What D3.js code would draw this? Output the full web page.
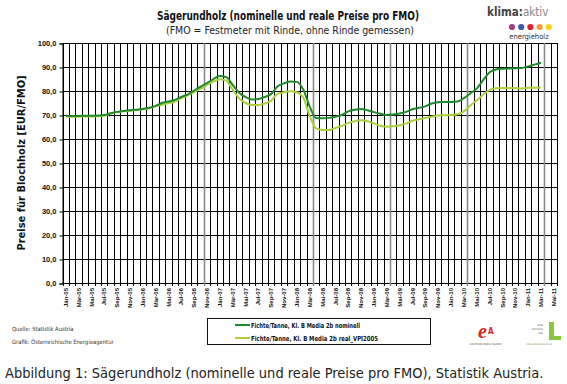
<!DOCTYPE html>
<html><head><meta charset="utf-8">
<script src="https://cdn.jsdelivr.net/npm/d3@7"></script>
<style>
html,body{margin:0;padding:0;background:#fff;}
svg{display:block;}
text{font-family:"Liberation Sans Narrow","Arial Narrow","DejaVu Sans Condensed",sans-serif;}
</style></head>
<body><svg id="c" width="567" height="384"></svg>
<script>
const months = ["Jän-05","Feb-05","Mär-05","Apr-05","Mai-05","Jun-05","Jul-05","Aug-05","Sep-05","Okt-05","Nov-05","Dez-05",
"Jän-06","Feb-06","Mär-06","Apr-06","Mai-06","Jun-06","Jul-06","Aug-06","Sep-06","Okt-06","Nov-06","Dez-06",
"Jän-07","Feb-07","Mär-07","Apr-07","Mai-07","Jun-07","Jul-07","Aug-07","Sep-07","Okt-07","Nov-07","Dez-07",
"Jän-08","Feb-08","Mär-08","Apr-08","Mai-08","Jun-08","Jul-08","Aug-08","Sep-08","Okt-08","Nov-08","Dez-08",
"Jän-09","Feb-09","Mär-09","Apr-09","Mai-09","Jun-09","Jul-09","Aug-09","Sep-09","Okt-09","Nov-09","Dez-09",
"Jän-10","Feb-10","Mär-10","Apr-10","Mai-10","Jun-10","Jul-10","Aug-10","Sep-10","Okt-10","Nov-10","Dez-10",
"Jän-11","Feb-11","Mär-11","Apr-11","Mai-11"];
const tickLabels = ["Jän-05","Mär-05","Mai-05","Jul-05","Sep-05","Nov-05","Jän-06","Mär-06","Mai-06","Jul-06","Sep-06","Nov-06",
"Jän-07","Mär-07","Mai-07","Jul-07","Sep-07","Nov-07","Jän-08","Mär-08","Mai-08","Jul-08","Sep-08","Nov-08",
"Jän-09","Mär-09","Mai-09","Jul-09","Sep-09","Nov-09","Jän-10","Mär-10","Mai-10","Jul-10","Sep-10","Nov-10",
"Jän-11","Mär-11","Mai-11"];
const nominal = [69.7,69.6,69.6,69.7,69.7,69.8,70.0,70.7,71.3,71.7,72.0,72.2,
72.5,73.0,73.8,75.0,75.6,76.3,77.5,78.6,80.2,81.8,83.3,85.0,
86.3,85.8,82.5,79.3,77.5,76.5,76.7,77.5,78.8,82.0,83.2,84.0,
83.8,80.5,73.5,68.7,68.6,68.8,69.3,70.0,71.5,72.2,72.5,72.0,
71.2,70.5,70.0,70.2,70.6,71.3,72.4,73.0,73.6,74.8,75.3,75.4,
75.4,75.6,77.0,79.0,81.0,84.5,87.8,89.0,89.3,89.4,89.5,89.6,
90.2,91.0,91.8];
const real = [69.4,69.3,69.3,69.4,69.4,69.5,69.7,70.6,71.2,71.6,71.8,72.1,
72.4,72.8,73.6,74.3,74.9,75.6,77.0,78.2,79.6,81.0,82.5,84.0,
84.9,84.3,80.5,77.0,75.0,74.2,74.2,74.8,76.0,78.8,79.5,79.9,
79.5,77.2,69.5,64.4,63.8,63.8,64.6,65.5,66.6,67.4,67.8,67.4,
66.5,65.5,65.1,65.3,65.7,66.4,67.6,68.2,68.8,69.3,69.8,69.9,
70.0,70.3,71.5,74.0,76.0,78.5,80.4,81.1,81.2,81.2,81.2,81.0,
81.4,81.4,81.5];
const yTicks = [0,10,20,30,40,50,60,70,80,90,100];
const seriesNames = ["Fichte/Tanne, Kl. B Media 2b nominell","Fichte/Tanne, Kl. B Media 2b real_VPI2005"];
const seriesColors = ["#1f8a2c","#acd03c"];

const svg = d3.select("#c");
const L = 62.5, R = 557, T = 43, B = 283;
const x = d3.scaleBand().domain(months).range([L, R]).padding(0);
const y = d3.scaleLinear().domain([0,100]).range([B, T]);
const fmt = v => d3.format(".1f")(v).replace(".", ",");

// horizontal grid
svg.append("g").selectAll("line").data(yTicks).join("line")
  .attr("x1", L).attr("x2", R).attr("y1", d=>y(d)+0.5).attr("y2", d=>y(d)+0.5)
  .attr("stroke", "#000").attr("stroke-width", 1);
// vertical grid at band boundaries
const grayIdx = new Set([22,39,51,63,75]);
const bounds = d3.range(months.length + 1);
svg.append("g").selectAll("line").data(bounds).join("line")
  .attr("x1", i => Math.round(L + i*x.bandwidth()) + 0.5)
  .attr("x2", i => Math.round(L + i*x.bandwidth()) + 0.5)
  .attr("y1", T).attr("y2", B + 3)
  .attr("stroke", i => grayIdx.has(i) ? "#8a8a8a" : "#000")
  .attr("stroke-width", i => grayIdx.has(i) ? 1.6 : 1);

// y axis
const yAxis = d3.axisLeft(y).tickValues(yTicks).tickFormat(fmt).tickSize(3).tickPadding(3);
const ya = svg.append("g").attr("transform", `translate(${L},0.5)`).call(yAxis);
ya.select(".domain").attr("stroke", "#000");
ya.selectAll(".tick line").attr("stroke", "#000");
ya.selectAll("text").attr("font-size", 7.5).attr("font-weight", "bold").attr("fill", "#111")
  .style("font-family", '"Liberation Sans Narrow","Arial Narrow",sans-serif');

// x axis labels
const xAxis = d3.axisBottom(x).tickValues(tickLabels).tickSize(0).tickPadding(0);
const xa = svg.append("g").attr("transform", `translate(0,${B})`).call(xAxis);
xa.select(".domain").remove();
xa.selectAll("text").attr("font-size", 6).attr("font-weight", "bold").attr("fill", "#111")
  .attr("transform", "rotate(-90)").attr("text-anchor", "end")
  .attr("x", -5).attr("y", 0).attr("dy", "0.35em")
  .style("font-family", '"Liberation Sans Narrow","Arial Narrow",sans-serif');

// lines
const line = d3.line().x((d,i)=>x(months[i]) + x.bandwidth()/2).y(d=>y(d)).curve(d3.curveMonotoneX);
[real, nominal].forEach((s, k) => {
  const idx = k === 0 ? 1 : 0;
  svg.append("path").datum(s).attr("d", line).attr("fill", "none")
    .attr("stroke", seriesColors[idx]).attr("stroke-width", 2);
});

// titles
svg.append("text").attr("x", 288).attr("y", 20).attr("text-anchor", "middle")
  .attr("font-size", 12.5).attr("font-weight", "bold").attr("fill", "#111")
  .attr("textLength", 262).attr("lengthAdjust", "spacingAndGlyphs")
  .text("Sägerundholz (nominelle und reale Preise pro FMO)");
svg.append("text").attr("x", 290).attr("y", 34).attr("text-anchor", "middle")
  .attr("font-size", 10).attr("fill", "#222")
  .attr("textLength", 248).attr("lengthAdjust", "spacingAndGlyphs")
  .text("(FMO = Festmeter mit Rinde, ohne Rinde gemessen)");

// y title
svg.append("text").attr("transform", `translate(25,${(T+B)/2}) rotate(-90)`).attr("text-anchor", "middle")
  .attr("font-size", 11).attr("font-weight", "bold").attr("fill", "#111")
  .text("Preise für Blochholz [EUR/FMO]");

// klima:aktiv logo
const lg = svg.append("g");
lg.append("text").attr("x", 487).attr("y", 16).attr("font-size", 11.5).attr("font-weight", "bold").attr("fill", "#444").text("klima:")
  .append("tspan").attr("font-weight", "normal").attr("fill", "#888").text("aktiv");
const dotCols = ["#a83e8c","#3d5aa8","#e0202f","#f5a030","#f7d21e"];
lg.selectAll("circle").data(dotCols).join("circle")
  .attr("cx", (d,i)=>512 + i*9.2).attr("cy", 27).attr("r", 3.1).attr("fill", d=>d);
lg.append("text").attr("x", 529).attr("y", 39).attr("text-anchor", "middle").attr("font-size", 7.5).attr("fill", "#333").text("energieholz");

// sources
svg.append("text").attr("x", 12).attr("y", 331).attr("font-size", 5.8).attr("fill", "#333").text("Quelle: Statistik Austria");
svg.append("text").attr("x", 12).attr("y", 344).attr("font-size", 5.8).attr("fill", "#333").text("Grafik: Österreichische Energieagentur");

// legend
svg.append("rect").attr("x", 207.5).attr("y", 318.5).attr("width", 223).attr("height", 26).attr("fill", "none").attr("stroke", "#111").attr("stroke-width", 1);
const legLens = [109, 127];
seriesNames.forEach((n, i) => {
  const yy = 325 + i*13;
  svg.append("line").attr("x1", 235).attr("x2", 250).attr("y1", yy).attr("y2", yy)
    .attr("stroke", seriesColors[i]).attr("stroke-width", 2);
  svg.append("text").attr("x", 251).attr("y", yy + 2.5).attr("font-size", 7).attr("font-weight", "bold").attr("fill", "#111")
    .attr("textLength", legLens[i]).attr("lengthAdjust", "spacingAndGlyphs").text(n);
});

// bottom-right logos (approximate)
const e = svg.append("g");
e.append("text").attr("x", 478).attr("y", 338).attr("font-size", 20).attr("font-style", "italic").attr("font-weight", "bold")
  .attr("fill", "#d9261c").style("font-family", "Liberation Serif, serif").text("e");
e.append("text").attr("x", 488).attr("y", 334).attr("font-size", 8).attr("font-weight", "bold").attr("fill", "#d9261c").text("A");
e.append("text").attr("x", 486).attr("y", 345).attr("text-anchor", "middle").attr("font-size", 2.6).attr("fill", "#555").text("AUSTRIAN ENERGY AGENCY");
const l2 = svg.append("g");
l2.append("rect").attr("x", 549).attr("y", 322).attr("width", 5).attr("height", 18).attr("fill", "#8cc63f");
l2.append("rect").attr("x", 549).attr("y", 336).attr("width", 12).attr("height", 4).attr("fill", "#8cc63f");
l2.append("text").attr("x", 543).attr("y", 326).attr("text-anchor", "end").attr("font-size", 2.5).attr("fill", "#555").text("EINE");
l2.append("text").attr("x", 543).attr("y", 330).attr("text-anchor", "end").attr("font-size", 2.5).attr("fill", "#555").text("INITIATIVE");
l2.append("text").attr("x", 543).attr("y", 334).attr("text-anchor", "end").attr("font-size", 2.5).attr("fill", "#555").text("DES");
l2.append("text").attr("x", 539).attr("y", 345).attr("text-anchor", "middle").attr("font-size", 2.7).attr("fill", "#6a9a3a").text("lebensministerium.at");

// caption
svg.append("text").attr("x", 5).attr("y", 378).attr("font-size", 14.5).attr("fill", "#222")
  .text("Abbildung 1: Sägerundholz (nominelle und reale Preise pro FMO), Statistik Austria.");
</script></body></html>
